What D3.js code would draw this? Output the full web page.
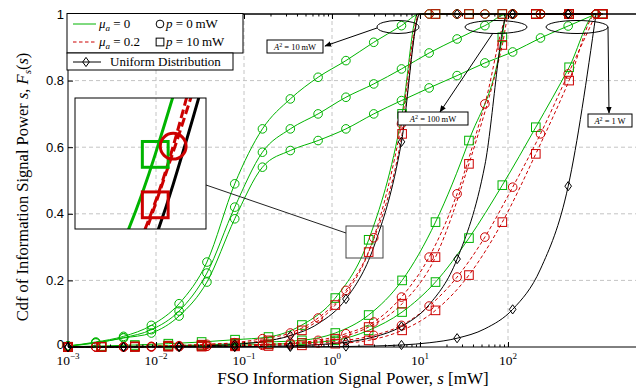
<!DOCTYPE html>
<html>
<head>
<meta charset="utf-8">
<script src="https://cdn.jsdelivr.net/npm/d3@7"></script>
<style>
body { margin: 0; background: #fff; }
svg { display: block; font-family: "Liberation Serif", "DejaVu Serif", serif; }
</style>
</head>
<body>
<script>
// s grids (mW) of the two marker sets
var sCirc = [0.001, 0.00207, 0.00428, 0.00886, 0.0183, 0.0379, 0.0785, 0.162, 0.336, 0.695,
             1.44, 2.98, 6.16, 12.7, 26.4, 54.6, 113, 234, 483, 1000];
var sSq = [0.001, 0.0024, 0.00575, 0.0138, 0.033, 0.0791, 0.19, 0.455, 1.09, 2.61,
           6.26, 15.0, 36.0, 86.2, 207, 495, 1190];

// mu_a = 0, p = 0 (green, circles)
var gc10   = [0.003, 0.015, 0.032, 0.065, 0.13, 0.255, 0.49, 0.655, 0.745, 0.81, 0.86, 0.915, 0.965, 1, 1, 1, 1, 1, 1, 1];
var gc100  = [0.003, 0.013, 0.028, 0.052, 0.108, 0.222, 0.42, 0.585, 0.655, 0.70, 0.75, 0.79, 0.835, 0.883, 0.925, 0.965, 1, 1, 1, 1];
var gc1000 = [0.003, 0.012, 0.027, 0.042, 0.093, 0.195, 0.385, 0.54, 0.59, 0.62, 0.655, 0.70, 0.74, 0.778, 0.815, 0.853, 0.886, 0.928, 0.964, 1];
// mu_a = 0, p = 10 mW (green, squares)
var gq10   = [0.001, 0.003, 0.006, 0.01, 0.015, 0.022, 0.03, 0.066, 0.147, 0.322, 0.70, 1, 1, 1, 1, 1, 1];
var gq100  = [0.0005, 0.001, 0.002, 0.004, 0.006, 0.01, 0.015, 0.02, 0.042, 0.096, 0.2, 0.375, 0.62, 0.93, 1, 1, 1];
var gq1000 = [0, 0.0005, 0.001, 0.002, 0.003, 0.005, 0.008, 0.012, 0.02, 0.05, 0.105, 0.195, 0.327, 0.486, 0.66, 0.84, 1];
// mu_a = 0.2, p = 0 (red dashed, circles)
var rc10   = [0, 0, 0.001, 0.002, 0.004, 0.008, 0.013, 0.025, 0.042, 0.087, 0.17, 0.328, 0.67, 1, 1, 1, 1, 1, 1, 1];
var rc100  = [0, 0, 0, 0.001, 0.002, 0.003, 0.005, 0.008, 0.012, 0.02, 0.04, 0.075, 0.15, 0.27, 0.46, 0.73, 1, 1, 1, 1];
var rc1000 = [0, 0, 0, 0, 0.001, 0.002, 0.003, 0.005, 0.008, 0.012, 0.02, 0.035, 0.065, 0.123, 0.21, 0.33, 0.48, 0.64, 0.82, 1];
// mu_a = 0.2, p = 10 mW (red dashed, squares)
var rq10   = [0, 0.001, 0.002, 0.004, 0.007, 0.012, 0.02, 0.05, 0.126, 0.285, 0.64, 1, 1, 1, 1, 1, 1];
var rq100  = [0, 0, 0.001, 0.002, 0.003, 0.005, 0.008, 0.012, 0.025, 0.06, 0.13, 0.27, 0.55, 0.907, 1, 1, 1];
var rq1000 = [0, 0, 0, 0.001, 0.001, 0.002, 0.003, 0.005, 0.01, 0.02, 0.05, 0.11, 0.216, 0.375, 0.58, 0.8, 1];
// uniform distribution (black, diamonds on every other point)
var ud10   = [0.0001, 0.0002, 0.0004, 0.0009, 0.0018, 0.0038, 0.0078, 0.016, 0.034, 0.07, 0.144, 0.30, 0.616, 1, 1, 1, 1, 1, 1, 1];
var ud100  = [0, 0, 0, 0.0001, 0.0002, 0.0004, 0.0008, 0.0016, 0.0034, 0.007, 0.0144, 0.03, 0.0616, 0.127, 0.264, 0.546, 1, 1, 1, 1];
var ud1000 = [0, 0, 0, 0, 0, 0, 0.0001, 0.0002, 0.0003, 0.0007, 0.0014, 0.003, 0.006, 0.0127, 0.0264, 0.0546, 0.113, 0.234, 0.483, 1];

var top10 = [10, 9.4, 9.8, 9.9, 10];      // gc, gq, rc, rq, ud
var top100 = [100, 95, 104, 103, 100];
var top1000 = [null, 1000, null, 1010, null];

var yTicks = [0, 0.2, 0.4, 0.6, 0.8, 1];
var xDecades = [-3, -2, -1, 0, 1, 2];

var green = "#00b400", red = "#cc0000";

var w = 636, h = 389;
var svg = d3.select("body").append("svg").attr("width", w).attr("height", h);

var x = d3.scaleLog().domain([1e-3, 1e3]).range([68, 596]);
var y = d3.scaleLinear().domain([0, 1]).range([347, 14]);

var series = [
  {s: sCirc, F: gc10, top: top10[0], color: green, mark: "o"},
  {s: sCirc, F: gc100, top: top100[0], color: green, mark: "o"},
  {s: sCirc, F: gc1000, top: top1000[0], color: green, mark: "o"},
  {s: sSq, F: gq10, top: top10[1], color: green, mark: "s"},
  {s: sSq, F: gq100, top: top100[1], color: green, mark: "s"},
  {s: sSq, F: gq1000, top: top1000[1], color: green, mark: "s"},
  {s: sCirc, F: rc10, top: top10[2], color: red, dash: true, mark: "o"},
  {s: sCirc, F: rc100, top: top100[2], color: red, dash: true, mark: "o"},
  {s: sCirc, F: rc1000, top: top1000[2], color: red, dash: true, mark: "o"},
  {s: sSq, F: rq10, top: top10[3], color: red, dash: true, mark: "s"},
  {s: sSq, F: rq100, top: top100[3], color: red, dash: true, mark: "s"},
  {s: sSq, F: rq1000, top: top1000[3], color: red, dash: true, mark: "s"},
  {s: sCirc, F: ud10, top: top10[4], color: "#000", mark: "d", every: 2},
  {s: sCirc, F: ud100, top: top100[4], color: "#000", mark: "d", every: 2},
  {s: sCirc, F: ud1000, top: top1000[4], color: "#000", mark: "d", every: 2}
];

series.forEach(function(d) {
  var pts = d.s.map(function(v, i) { return [v, d.F[i]]; });
  if (d.top) pts.push([d.top, 1]);
  pts.sort(function(a, b) { return a[0] - b[0]; });
  d.line = pts;
});

// grid
var grid = svg.append("g").attr("stroke", "#c4c4c4").attr("stroke-dasharray", "4,3");
[-2, -1, 0, 1, 2].forEach(function(e) {
  grid.append("line").attr("x1", x(Math.pow(10, e))).attr("x2", x(Math.pow(10, e)))
    .attr("y1", y(1)).attr("y2", y(0));
});
[0.2, 0.4, 0.6, 0.8].forEach(function(v) {
  grid.append("line").attr("x1", 68).attr("x2", w).attr("y1", y(v)).attr("y2", y(v));
});

function markerShape(g, type, cx, cy, k, color, sw) {
  if (type == "o") {
    g.append("circle").attr("cx", cx).attr("cy", cy).attr("r", 4.3 * k)
      .attr("fill", "none").attr("stroke", color).attr("stroke-width", sw);
  } else if (type == "s") {
    g.append("rect").attr("x", cx - 4.3 * k).attr("y", cy - 4.3 * k)
      .attr("width", 8.6 * k).attr("height", 8.6 * k)
      .attr("fill", "none").attr("stroke", color).attr("stroke-width", sw);
  } else {
    g.append("path")
      .attr("d", "M" + cx + "," + (cy - 4.6 * k) + "L" + (cx + 3.3 * k) + "," + cy +
                 "L" + cx + "," + (cy + 4.6 * k) + "L" + (cx - 3.3 * k) + "," + cy + "Z")
      .attr("fill", "none").attr("stroke", color).attr("stroke-width", sw);
  }
}

function drawSeries(g, xs, ys, lw, dash, k) {
  var line = d3.line()
    .x(function(p) { return xs(p[0]); })
    .y(function(p) { return ys(p[1]); })
    .curve(d3.curveMonotoneX);
  series.forEach(function(d) {
    g.append("path").attr("d", line(d.line)).attr("fill", "none")
      .attr("stroke", d.color).attr("stroke-width", lw)
      .attr("stroke-dasharray", d.dash ? dash : null);
  });
  series.forEach(function(d) {
    var every = d.every || 1;
    d.s.forEach(function(v, i) {
      if (i % every) return;
      markerShape(g, d.mark, xs(v), ys(d.F[i]), k, d.color, lw);
    });
  });
}

drawSeries(svg.append("g"), x, y, 1, "3.5,2.5", 1);

// axes frame and ticks
svg.append("line").attr("x1", 68).attr("x2", w).attr("y1", y(0)).attr("y2", y(0)).attr("stroke", "#000");
svg.append("line").attr("x1", 68).attr("x2", w).attr("y1", y(1)).attr("y2", y(1)).attr("stroke", "#000").attr("stroke-width", 1.4);
svg.append("line").attr("x1", 68).attr("x2", 68).attr("y1", y(1)).attr("y2", y(0)).attr("stroke", "#000");

var majors = xDecades.map(function(e) { return Math.pow(10, e); });
var minors = [];
xDecades.slice(0, 5).forEach(function(e) {
  for (var m = 2; m < 10; m++) minors.push(m * Math.pow(10, e));
});

function xTicks(axisFn, pos, len, vals) {
  svg.append("g").attr("transform", "translate(0," + pos + ")")
    .call(axisFn(x).tickValues(vals).tickSize(len).tickFormat(""))
    .call(function(g) { g.select(".domain").remove(); });
}
xTicks(d3.axisBottom, y(0), -5, majors);
xTicks(d3.axisBottom, y(0), -2.5, minors);
xTicks(d3.axisTop, y(1), -5, majors);
xTicks(d3.axisTop, y(1), -2.5, minors);

svg.append("g").attr("transform", "translate(68,0)")
  .call(d3.axisLeft(y).tickValues(yTicks).tickSize(-5).tickPadding(4)
    .tickFormat(function(d) { return d; }))
  .call(function(g) {
    g.select(".domain").remove();
    g.selectAll("text").attr("font-size", 13).attr("font-family", null)
      .attr("dy", function(d) { return d === 0 ? "0.1em" : "0.32em"; });
  });

xDecades.forEach(function(e) {
  var t = svg.append("text").attr("x", x(Math.pow(10, e))).attr("y", 365)
    .attr("text-anchor", "middle").attr("font-size", 13.5);
  t.append("tspan").text("10");
  t.append("tspan").attr("dy", -6).attr("font-size", 9).text(e < 0 ? "\u2212" + (-e) : e);
});

// axis titles
var xt = svg.append("text").attr("x", 353).attr("y", 384).attr("text-anchor", "middle").attr("font-size", 17);
xt.append("tspan").text("FSO Information Signal Power, ");
xt.append("tspan").attr("font-style", "italic").text("s");
xt.append("tspan").text(" [mW]");

var yt = svg.append("text").attr("transform", "rotate(-90)").attr("x", -187).attr("y", 28)
  .attr("text-anchor", "middle").attr("font-size", 16.5);
yt.append("tspan").text("Cdf of Information Signal Power ");
yt.append("tspan").attr("font-style", "italic").text("s");
yt.append("tspan").text(", ");
yt.append("tspan").attr("font-style", "italic").text("F");
yt.append("tspan").attr("font-style", "italic").attr("font-size", 11).attr("dy", 3).text("s");
yt.append("tspan").attr("dy", -3).text("(");
yt.append("tspan").attr("font-style", "italic").text("s");
yt.append("tspan").text(")");

// annotations: ellipses, arrows, labels
svg.append("defs").append("marker").attr("id", "arr").attr("viewBox", "0 0 10 10")
  .attr("refX", 9).attr("refY", 5).attr("markerWidth", 7).attr("markerHeight", 7)
  .attr("orient", "auto-start-reverse")
  .append("path").attr("d", "M0,1L10,5L0,9Z").attr("fill", "#000");

var ann = svg.append("g");
[[398, 27, 21], [496, 27, 31], [577, 27, 31]].forEach(function(e) {
  ann.append("ellipse").attr("cx", e[0]).attr("cy", e[1]).attr("rx", e[2]).attr("ry", 6.5)
    .attr("fill", "none").attr("stroke", "#000");
});
[[377, 28, 325, 46], [493, 33, 440, 112], [608, 27, 609, 113]].forEach(function(a) {
  ann.append("line").attr("x1", a[0]).attr("y1", a[1]).attr("x2", a[2]).attr("y2", a[3])
    .attr("stroke", "#000").attr("marker-end", "url(#arr)");
});
[[267, 40, 56, "10", "mW"], [398, 112, 70, "100", "mW"], [588, 114, 44, "1", "W"]].forEach(function(b) {
  ann.append("rect").attr("x", b[0]).attr("y", b[1]).attr("width", b[2]).attr("height", 13)
    .attr("fill", "#fff").attr("stroke", "#000");
  var t = ann.append("text").attr("x", b[0] + b[2] / 2).attr("y", b[1] + 10)
    .attr("text-anchor", "middle").attr("font-size", 8.5);
  t.append("tspan").attr("font-style", "italic").text("A");
  t.append("tspan").attr("dy", -3).attr("font-size", 6).text("2");
  t.append("tspan").attr("dy", 3).text(" = " + b[3] + "\u2009" + b[4]);
});

// zoom inset
var zx0 = 346, zx1 = 383, zy0 = 226, zy1 = 258;
var ix = d3.scaleLog().domain([x.invert(zx0), x.invert(zx1)]).range([75, 206]);
var iy = d3.scaleLinear().domain([y.invert(zy1), y.invert(zy0)]).range([229, 98]);
svg.append("rect").attr("x", zx0).attr("y", zy0).attr("width", zx1 - zx0).attr("height", zy1 - zy0)
  .attr("fill", "none").attr("stroke", "#444");
svg.append("line").attr("x1", 206).attr("y1", 185).attr("x2", zx0).attr("y2", 233).attr("stroke", "#222");
svg.append("clipPath").attr("id", "inclip").append("rect")
  .attr("x", 75).attr("y", 98).attr("width", 131).attr("height", 131);
drawSeries(svg.append("g").attr("clip-path", "url(#inclip)"), ix, iy, 3, "9,4", 3);
svg.append("rect").attr("x", 75).attr("y", 98).attr("width", 131).attr("height", 131)
  .attr("fill", "none").attr("stroke", "#000");

// legend
var lg = svg.append("g");
lg.append("rect").attr("x", 67).attr("y", 13.5).attr("width", 176).attr("height", 39.5)
  .attr("fill", "#fff").attr("stroke", "#000");
lg.append("rect").attr("x", 67).attr("y", 53).attr("width", 166).attr("height", 17)
  .attr("fill", "#fff").attr("stroke", "#000");
lg.append("line").attr("x1", 73).attr("x2", 96).attr("y1", 24).attr("y2", 24).attr("stroke", green);
lg.append("line").attr("x1", 73).attr("x2", 96).attr("y1", 42).attr("y2", 42).attr("stroke", red)
  .attr("stroke-dasharray", "3.5,2.5");
lg.append("line").attr("x1", 73).attr("x2", 101).attr("y1", 62).attr("y2", 62).attr("stroke", "#000");
markerShape(lg, "d", 86, 62, 1, "#000", 1);
markerShape(lg, "o", 160, 24, 0.9, "#000", 1);
markerShape(lg, "s", 160, 42, 0.9, "#000", 1);

function mathLabel(xp, yp, sym, sub, rest) {
  var t = lg.append("text").attr("x", xp).attr("y", yp).attr("font-size", 13);
  t.append("tspan").attr("font-style", "italic").text(sym);
  if (sub) {
    t.append("tspan").attr("font-style", "italic").attr("font-size", 9).attr("dy", 3).text(sub);
    t.append("tspan").attr("dy", -3).text(rest);
  } else {
    t.append("tspan").text(rest);
  }
}
mathLabel(99, 28, "\u03bc", "a", " = 0");
mathLabel(99, 46, "\u03bc", "a", " = 0.2");
mathLabel(166, 28, "p", null, " = 0\u2009mW");
mathLabel(166, 46, "p", null, " = 10\u2009mW");
lg.append("text").attr("x", 110).attr("y", 66).attr("font-size", 13).text("Uniform Distribution");
</script>
</body>
</html>
